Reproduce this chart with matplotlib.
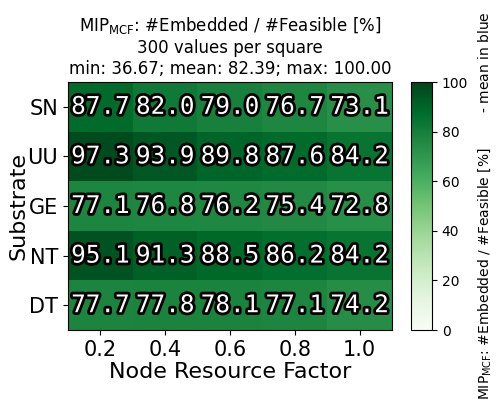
import matplotlib
matplotlib.use("Agg")
import matplotlib.pyplot as plt
import matplotlib.patheffects as pe
import numpy as np

substrates = ["SN", "UU", "GE", "NT", "DT"]
node_factors = ["0.2", "0.4", "0.6", "0.8", "1.0"]
values = np.array([
    [87.7, 82.0, 79.0, 76.7, 73.1],
    [97.3, 93.9, 89.8, 87.6, 84.2],
    [77.1, 76.8, 76.2, 75.4, 72.8],
    [95.1, 91.3, 88.5, 86.2, 84.2],
    [77.7, 77.8, 78.1, 77.1, 74.2],
])

fig = plt.figure(figsize=(5, 4), dpi=100)
ax = fig.add_axes([0.136, 0.175, 0.648, 0.62])
cax = fig.add_axes([0.822, 0.175, 0.042, 0.62])

im = ax.imshow(values, cmap="Greens", vmin=0, vmax=100, aspect="auto",
               interpolation="nearest")

for i in range(len(substrates)):
    for j in range(len(node_factors)):
        ax.text(j, i, f"{values[i, j]:.1f}", ha="center", va="center",
                fontsize=17.5, family="DejaVu Sans Mono", color="white",
                path_effects=[pe.withStroke(linewidth=4, foreground="black")])

ax.set_xticks(range(len(node_factors)))
ax.set_xticklabels(node_factors, fontsize=15)
ax.set_yticks(range(len(substrates)))
ax.set_yticklabels(substrates, fontsize=15)
ax.set_xlabel("Node Resource Factor", fontsize=16, labelpad=2)
ax.set_ylabel("Substrate", fontsize=16, labelpad=-1)
ax.set_title("MIP$_{\\mathrm{MCF}}$: #Embedded / #Feasible [%]\n"
             "300 values per square\n"
             "min: 36.67; mean: 82.39; max: 100.00", fontsize=12)

cb = fig.colorbar(im, cax=cax)
cb.set_ticks([0, 20, 40, 60, 80, 100])
cb.ax.tick_params(labelsize=10)
cb.set_label("MIP$_{\\mathrm{MCF}}$: #Embedded / #Feasible [%]"
             "        - mean in blue", fontsize=10, labelpad=6)

fig.savefig("out.png", dpi=100)
